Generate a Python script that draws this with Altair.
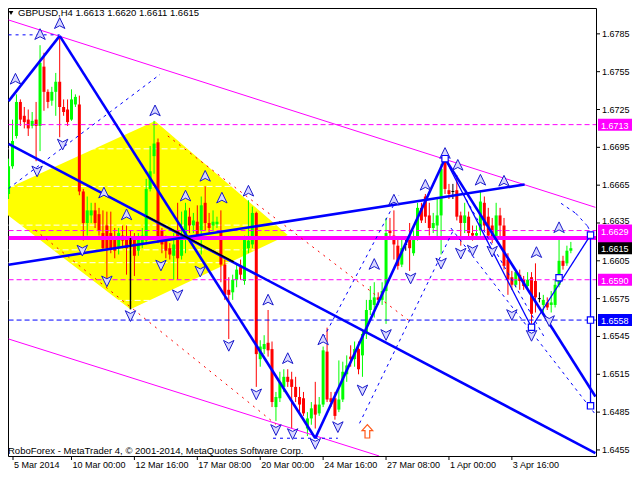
import altair as alt
import pandas as pd
import numpy as np

FONT = "Liberation Sans"

# ---------------- candles (GBPUSD H4, bar index 0..143) ----------------
opens = [1.6658,1.6680,1.6704,1.6731,1.6720,1.6717,1.6712,1.6717,1.6712,1.6759,
 1.6739,1.6732,1.6739,1.6747,1.6727,1.6725,1.6717,1.6729,1.6729,1.6660,
 1.6635,1.6641,1.6645,1.6642,1.6627,1.6633,1.6627,1.6623,1.6615,1.6625,
 1.6623,1.6623,1.6622,1.6613,1.6618,1.6621,1.6662,1.6688,1.6699,1.6629,
 1.6623,1.6615,1.6609,1.6629,1.6609,1.6623,1.6640,1.6633,1.6636,1.6629,
 1.6651,1.6635,1.6633,1.6634,1.6629,1.6602,1.6582,1.6580,1.6590,1.6600,
 1.6589,1.6615,1.6618,1.6643,1.6527,1.6535,1.6540,1.6535,1.6489,1.6496,
 1.6505,1.6513,1.6511,1.6505,1.6497,1.6496,1.6472,1.6480,1.6491,1.6484,
 1.6491,1.6533,1.6496,1.6496,1.6487,1.6495,1.6515,1.6529,1.6527,1.6535,
 1.6530,1.6547,1.6566,1.6570,1.6576,1.6574,1.6581,1.6629,1.6625,1.6617,
 1.6602,1.6618,1.6625,1.6611,1.6623,1.6647,1.6656,1.6641,1.6631,1.6633,
 1.6641,1.6684,1.6661,1.6660,1.6661,1.6641,1.6635,1.6640,1.6627,1.6625,
 1.6629,1.6651,1.6640,1.6633,1.6623,1.6641,1.6633,1.6606,1.6592,1.6586,
 1.6594,1.6590,1.6585,1.6592,1.6589,1.6575,1.6570,1.6572,1.6570,1.6570,
 1.6586,1.6605,1.6603,1.6613]
highs = [1.6686,1.6717,1.6737,1.6733,1.6727,1.6725,1.6723,1.6731,1.6776,1.6770,
 1.6741,1.6743,1.6754,1.6783,1.6733,1.6733,1.6741,1.6737,1.6736,1.6662,
 1.6656,1.6651,1.6651,1.6647,1.6645,1.6644,1.6644,1.6631,1.6631,1.6633,
 1.6633,1.6629,1.6627,1.6627,1.6631,1.6670,1.6696,1.6716,1.6702,1.6631,
 1.6625,1.6619,1.6627,1.6651,1.6644,1.6651,1.6647,1.6643,1.6649,1.6656,
 1.6664,1.6643,1.6645,1.6640,1.6645,1.6606,1.6592,1.6594,1.6603,1.6606,
 1.6625,1.6653,1.6648,1.6644,1.6542,1.6546,1.6566,1.6541,1.6501,1.6517,
 1.6519,1.6519,1.6517,1.6513,1.6505,1.6501,1.6485,1.6493,1.6509,1.6497,
 1.6537,1.6552,1.6501,1.6501,1.6526,1.6525,1.6530,1.6538,1.6541,1.6541,
 1.6550,1.6574,1.6585,1.6588,1.6580,1.6588,1.6639,1.6639,1.6645,1.6623,
 1.6623,1.6623,1.6635,1.6629,1.6651,1.6651,1.6658,1.6651,1.6643,1.6654,
 1.6682,1.6690,1.6666,1.6666,1.6673,1.6644,1.6651,1.6644,1.6633,1.6633,
 1.6661,1.6656,1.6647,1.6639,1.6651,1.6647,1.6639,1.6611,1.6597,1.6598,
 1.6598,1.6593,1.6596,1.6596,1.6603,1.6580,1.6578,1.6576,1.6581,1.6590,
 1.6622,1.6609,1.6617,1.6620]
lows = [1.6654,1.6678,1.6702,1.6712,1.6710,1.6704,1.6710,1.6684,1.6692,1.6724,
 1.6726,1.6728,1.6720,1.6703,1.6720,1.6712,1.6716,1.6727,1.6657,1.6621,
 1.6625,1.6635,1.6631,1.6625,1.6614,1.6586,1.6611,1.6607,1.6610,1.6615,
 1.6594,1.6611,1.6593,1.6609,1.6615,1.6618,1.6660,1.6674,1.6619,1.6611,
 1.6607,1.6606,1.6590,1.6590,1.6606,1.6611,1.6627,1.6627,1.6623,1.6610,
 1.6629,1.6627,1.6629,1.6631,1.6588,1.6574,1.6543,1.6574,1.6584,1.6590,
 1.6586,1.6611,1.6615,1.6505,1.6521,1.6531,1.6529,1.6489,1.6478,1.6493,
 1.6501,1.6505,1.6472,1.6493,1.6485,1.6482,1.6466,1.6475,1.6472,1.6482,
 1.6489,1.6493,1.6489,1.6479,1.6485,1.6493,1.6509,1.6521,1.6521,1.6515,
 1.6513,1.6543,1.6562,1.6560,1.6570,1.6570,1.6555,1.6623,1.6606,1.6598,
 1.6600,1.6613,1.6597,1.6609,1.6621,1.6635,1.6635,1.6625,1.6627,1.6623,
 1.6610,1.6658,1.6654,1.6654,1.6637,1.6617,1.6627,1.6623,1.6621,1.6622,
 1.6625,1.6629,1.6622,1.6619,1.6621,1.6623,1.6598,1.6578,1.6582,1.6584,
 1.6582,1.6582,1.6582,1.6555,1.6564,1.6572,1.6564,1.6566,1.6564,1.6568,
 1.6584,1.6598,1.6601,1.6611]
closes = [1.6680,1.6700,1.6731,1.6717,1.6715,1.6710,1.6716,1.6712,1.6762,1.6739,
 1.6731,1.6739,1.6747,1.6727,1.6723,1.6715,1.6733,1.6735,1.6660,1.6635,
 1.6645,1.6645,1.6635,1.6629,1.6615,1.6615,1.6615,1.6613,1.6627,1.6621,
 1.6615,1.6618,1.6609,1.6623,1.6625,1.6662,1.6676,1.6698,1.6623,1.6618,
 1.6613,1.6610,1.6618,1.6607,1.6623,1.6645,1.6633,1.6637,1.6625,1.6649,
 1.6635,1.6631,1.6636,1.6636,1.6602,1.6578,1.6578,1.6590,1.6598,1.6594,
 1.6623,1.6621,1.6643,1.6531,1.6537,1.6539,1.6534,1.6493,1.6497,1.6509,
 1.6513,1.6509,1.6505,1.6497,1.6491,1.6484,1.6480,1.6488,1.6483,1.6491,
 1.6534,1.6495,1.6493,1.6482,1.6495,1.6517,1.6522,1.6527,1.6535,1.6519,
 1.6547,1.6566,1.6574,1.6576,1.6574,1.6581,1.6627,1.6627,1.6618,1.6601,
 1.6615,1.6618,1.6615,1.6623,1.6647,1.6637,1.6640,1.6631,1.6635,1.6641,
 1.6678,1.6662,1.6658,1.6660,1.6640,1.6635,1.6641,1.6627,1.6625,1.6627,
 1.6652,1.6633,1.6625,1.6623,1.6641,1.6633,1.6601,1.6590,1.6586,1.6596,
 1.6589,1.6585,1.6590,1.6563,1.6576,1.6575,1.6574,1.6568,1.6572,1.6586,
 1.6605,1.6601,1.6613,1.6615]

# ---------------- axes ----------------
price_ticks = [1.6455, 1.6485, 1.6515, 1.6545, 1.6575, 1.6605, 1.6635,
               1.6665, 1.6695, 1.6725, 1.6755, 1.6785]
time_tick_bars = [0, 16, 32, 48, 64, 80, 96, 112, 128]
time_tick_labels = ["5 Mar 2014", "10 Mar 00:00", "12 Mar 16:00", "17 Mar 08:00",
                    "20 Mar 00:00", "24 Mar 16:00", "27 Mar 08:00", "1 Apr 00:00",
                    "3 Apr 16:00"]

# ---------------- horizontal levels ----------------
magenta_dash_levels = [1.6713, 1.6629, 1.6590]
thick_magenta_level = [1.6623]
blue_dash_levels = [1.6558]
fib_levels = [1.66938, 1.66640, 1.66333, 1.66137, 1.66035, 1.65736]
fib_span = [0, 72]

# ---------------- drawn objects: segments (bar1, price1, bar2, price2) ----------------
thick_blue = [(0, 1.67316, 13, 1.67834), (13, 1.67834, 78, 1.64643),
              (78, 1.64643, 111, 1.66860), (111, 1.66860, 149.25, 1.64973),
              (0, 1.66978, 149.25, 1.64525), (0, 1.66019, 131.25, 1.66655)]
thin_blue = [(111, 1.66860, 133, 1.65523), (133, 1.65523, 148, 1.66254),
             (148, 1.66254, 148, 1.64900)]
black_segs = [(35, 1.66404, 57.25, 1.66042), (31, 1.66231, 31, 1.65665)]
blue_dashed = [(0, 1.66624, 38.5, 1.67528), (0, 1.67842, 13, 1.67842),
               (67.25, 1.64643, 83.75, 1.64643), (79.25, 1.65390, 99.25, 1.66570),
               (89.25, 1.64761, 113, 1.66286), (112.5, 1.66310, 149.25, 1.64832),
               (115.5, 1.66585, 136.25, 1.65445),
               (140.5, 1.66506, 144.25, 1.66427), (144.25, 1.66427, 147.25, 1.66325),
               (147.25, 1.66325, 148.75, 1.66231)]
red_dashed = [(6.75, 1.66294, 68, 1.64753), (40.5, 1.67040, 101.75, 1.65578)]
magenta_segs = [(0, 1.67960, 149.25, 1.66474), (0, 1.65430, 94.25, 1.64502)]

# yellow rotated rectangle (vertices as bar/price)
yellow_top_bar = [-5.75, 37.25, 71]
yellow_top_price = [1.66545, 1.67158, 1.66254]
yellow_bot_bar = [-5.75, 31, 71]
yellow_bot_price = [1.66545, 1.65665, 1.66254]

# fractal arrows
up_bar = [1.75, 8, 13, 37.25, 24.25, 30, 45, 50, 54.25, 61, 66, 71, 80, 93, 98, 106,
          111, 114.25, 120, 126, 134.25, 140]
up_price = [1.67488, 1.67842, 1.67929, 1.67237, 1.66585, 1.66412, 1.66561, 1.66718,
            1.66545, 1.66600, 1.65736, 1.65272, 1.65421, 1.66019, 1.66529, 1.66647,
            1.66899, 1.66805, 1.66687, 1.66679, 1.66113, 1.66310]
down_bar = [7.25, 13.75, 18.75, 25, 31, 38.75, 43, 48.75, 56, 63, 68, 72.25, 78, 83.75,
            90, 96, 102.25, 110, 115, 118, 123, 128, 133, 137.5]
down_price = [1.66765, 1.66978, 1.66137, 1.65893, 1.65618, 1.66019, 1.65783, 1.65971,
              1.65382, 1.64997, 1.64714, 1.64682, 1.64604, 1.64737, 1.65028, 1.65468,
              1.65916, 1.66034, 1.66113, 1.66137, 1.66129, 1.65626, 1.65461, 1.65578]
orange_bar = [91.25]
orange_price = [1.64698]
square_bar = [111, 133, 140, 148, 148, 148]
square_price = [1.66860, 1.65523, 1.65916, 1.66254, 1.65580, 1.64900]

# price tags on the right scale
tag_prices = [1.6713, 1.6623, 1.6629, 1.6615, 1.6590, 1.6558]
tag_colors = ["#ff00ff", "#ff00ff", "#ff00ff", "#000000", "#ff00ff", "#0000ff"]
tag_shown = [True, False, True, True, True, True]

title_text = "GBPUSD,H4  1.6613 1.6620 1.6611 1.6615"
copyright_text = "RoboForex - MetaTrader 4, \u00a9 2001-2014, MetaQuotes Software Corp."

# ---------------- build ----------------
W, H = 588, 448
X0 = 1.125
XS = alt.Scale(domain=[X0, 148.125], nice=False, zero=False)
YS = alt.Scale(domain=[1.64502, 1.68055], nice=False, zero=False)
NOAX = dict(axis=None)

df = pd.DataFrame({"i": np.arange(len(opens)), "o": opens, "h": highs, "l": lows, "c": closes})
df["dir"] = np.where(df.c > df.o, "up", np.where(df.c < df.o, "down", "flat"))
color = alt.Color("dir:N", scale=alt.Scale(domain=["up", "down", "flat"],
                                          range=["#00ff00", "#ff0000", "#000000"]), legend=None)

wicks = alt.Chart(df).mark_rule(strokeWidth=1, clip=True).encode(
    x=alt.X("i:Q", scale=XS, **NOAX), y=alt.Y("l:Q", scale=YS, **NOAX), y2="h:Q", color=color)

bodies = alt.Chart(df).transform_filter("datum.dir != 'flat'").mark_bar(size=3, clip=True).encode(
    x=alt.X("i:Q", scale=XS, **NOAX), y=alt.Y("o:Q", scale=YS, **NOAX), y2="c:Q", color=color)

dojis = alt.Chart(df).transform_filter("datum.dir == 'flat'").transform_calculate(
    a="datum.i - 0.375", b="datum.i + 0.375").mark_rule(color="black", clip=True).encode(
    x=alt.X("a:Q", scale=XS, **NOAX), x2="b:Q", y=alt.Y("o:Q", scale=YS, **NOAX))


def seg_layer(segs, col, width, dash=None):
    d = pd.DataFrame(segs, columns=["x1", "p1", "x2", "p2"])
    kw = dict(color=col, strokeWidth=width, clip=True)
    if dash:
        kw["strokeDash"] = dash
    return alt.Chart(d).mark_rule(**kw).encode(
        x=alt.X("x1:Q", scale=XS, **NOAX), y=alt.Y("p1:Q", scale=YS, **NOAX),
        x2="x2:Q", y2="p2:Q")


def hlines(levels, col, width, dash=None, span=(0, 150)):
    return seg_layer([(span[0], p, span[1], p) for p in levels], col, width, dash)


xs = np.array(sorted(set(yellow_top_bar + yellow_bot_bar)))
ydf = pd.DataFrame({"x": xs,
                    "top": np.interp(xs, yellow_top_bar, yellow_top_price),
                    "bot": np.interp(xs, yellow_bot_bar, yellow_bot_price)})
yellow = alt.Chart(ydf).mark_area(color="#ffff00", clip=True, opacity=1).encode(
    x=alt.X("x:Q", scale=XS, **NOAX), y=alt.Y("top:Q", scale=YS, **NOAX), y2="bot:Q")

UP = "M0,-1L0.85,0.75L0,0.3L-0.85,0.75Z"
DOWN = "M0,1L0.85,-0.75L0,-0.3L-0.85,-0.75Z"
BLOCK_UP = "M0,-1L0.8,-0.1L0.35,-0.1L0.35,1L-0.35,1L-0.35,-0.1L-0.8,-0.1Z"


def points(bars, prices, shape, fill, stroke, size, sw=1.0):
    d = pd.DataFrame({"x": bars, "p": prices})
    return alt.Chart(d).mark_point(shape=shape, filled=True, fill=fill, stroke=stroke,
                                   strokeWidth=sw, size=size, opacity=1, clip=True).encode(
        x=alt.X("x:Q", scale=XS, **NOAX), y=alt.Y("p:Q", scale=YS, **NOAX))


# ---- hand-built axes (right price scale, bottom time scale) ----
shown_tags = [p for p, s in zip(tag_prices, tag_shown) if s]
near = [min(shown_tags, key=lambda t: abs(t - p)) for p in price_ticks]
ydf_ax = pd.DataFrame({"p": price_ticks, "t": ["%.4f" % p for p in price_ticks],
                       "nudge": [abs(p - n) < 0.0008 for p, n in zip(price_ticks, near)]})
y_ticks = alt.Chart(ydf_ax).mark_rule(color="black").encode(
    y=alt.Y("p:Q", scale=YS, **NOAX), x=alt.value(W), x2=alt.value(W + 4))


def ylab(filt, dy):
    return alt.Chart(ydf_ax).transform_filter(filt).mark_text(
        align="left", baseline="middle", font=FONT, fontSize=9, color="black", dy=dy).encode(
        y=alt.Y("p:Q", scale=YS, **NOAX), x=alt.value(W + 6), text="t:N")


y_labels = ylab("!datum.nudge", 0)
y_labels_nudged = ylab("datum.nudge", -2)

xdf_ax = pd.DataFrame({"b": time_tick_bars, "t": time_tick_labels})
x_ticks = alt.Chart(xdf_ax).transform_calculate(bx="max(datum.b, %f)" % X0).mark_rule(
    color="black").encode(x=alt.X("bx:Q", scale=XS, **NOAX), y=alt.value(H), y2=alt.value(H + 4))
x_labels = alt.Chart(xdf_ax).transform_calculate(bx="max(datum.b, %f)" % X0).mark_text(
    align="left", baseline="top", font=FONT, fontSize=9, color="black", dx=1).encode(
    x=alt.X("bx:Q", scale=XS, **NOAX), y=alt.value(H + 5), text="t:N")

tags = pd.DataFrame({"p": tag_prices, "col": tag_colors, "show": tag_shown,
                     "t": ["%.4f" % p for p in tag_prices], "k": range(len(tag_prices))})
tag_rects = alt.Chart(tags).mark_rect(yOffset=-6, y2Offset=6).encode(
    x=alt.value(W + 2), x2=alt.value(W + 36), y=alt.Y("p:Q", scale=YS, **NOAX), y2="p:Q",
    color=alt.Color("col:N", scale=None), order="k:Q")
tag_texts = alt.Chart(tags).transform_filter("datum.show").mark_text(
    align="left", baseline="middle", font=FONT, fontSize=9, color="white", dy=1).encode(
    x=alt.value(W + 5), y=alt.Y("p:Q", scale=YS, **NOAX), text="t:N", order="k:Q")

title_df = pd.DataFrame({"t": [title_text]})
title = alt.Chart(title_df).mark_text(align="left", baseline="middle", font=FONT,
                                      fontSize=9.5, color="black").encode(
    x=alt.value(10), y=alt.value(5), text="t:N")
tri = alt.Chart(title_df).mark_point(shape="triangle-down", filled=True, color="black",
                                     size=22, opacity=1).encode(x=alt.value(3), y=alt.value(5))
copy_df = pd.DataFrame({"t": [copyright_text]})
copyright = alt.Chart(copy_df).mark_text(align="left", baseline="middle", font=FONT,
                                         fontSize=9.5, color="black").encode(
    x=alt.value(0), y=alt.value(H - 5), text="t:N")

chart = alt.layer(
    yellow,
    hlines(fib_levels, "white", 1, [6, 3], span=fib_span),
    wicks, bodies, dojis,
    hlines(magenta_dash_levels, "#ff00ff", 1, [5, 3]),
    hlines(thick_magenta_level, "#ff00ff", 4),
    hlines(blue_dash_levels, "#0000ff", 1, [5, 3]),
    seg_layer(magenta_segs, "#ff00ff", 1),
    seg_layer(red_dashed, "#ff0000", 1, [2, 5]),
    seg_layer(blue_dashed, "#0000ff", 1, [3, 4]),
    seg_layer(thin_blue, "#0000ff", 1.3),
    seg_layer(thick_blue, "#0000ff", 2.6),
    seg_layer(black_segs, "#000000", 1.5),
    points(up_bar, up_price, UP, "#d8d8ff", "#1a1acc", 150),
    points(down_bar, down_price, DOWN, "#d8d8ff", "#1a1acc", 150),
    points(orange_bar, orange_price, BLOCK_UP, "#ffffff", "#ff5a1a", 180, 1.2),
    points(square_bar, square_price, "square", "#ffffff", "#0000ff", 40, 1.2),
    y_ticks, y_labels, y_labels_nudged, x_ticks, x_labels,
    tag_rects, tag_texts, tri, title, copyright,
).properties(
    width=W, height=H,
    autosize=alt.AutoSizeParams(type="none"),
    padding={"left": 0, "top": 0, "right": 36, "bottom": 16},
    background="white",
).configure_view(stroke="black", strokeWidth=1)

chart.save("out.html", embed_options={"renderer": "svg", "actions": False})
